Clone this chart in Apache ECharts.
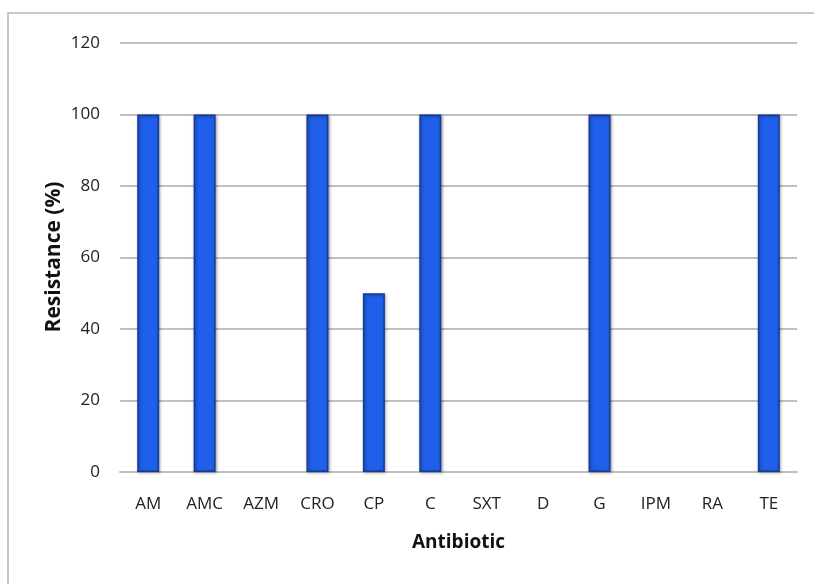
<!DOCTYPE html>
<html>
<head>
<meta charset="utf-8">
<script src="https://cdn.jsdelivr.net/npm/echarts@6/dist/echarts.min.js"></script>
<style>
  html, body { margin: 0; padding: 0; background: #fff; }
  #main { width: 814px; height: 584px; }
</style>
</head>
<body>
<div id="main"></div>
<script>
// antibiotics on the x axis
var antibiotics = ["AM", "AMC", "AZM", "CRO", "CP", "C", "SXT", "D", "G", "IPM", "RA", "TE"];
// resistance in percent
var resistance = [100, 100, 0, 100, 50, 100, 0, 0, 100, 0, 0, 100];
var yTicks = [0, 20, 40, 60, 80, 100, 120];
var yTitle = "Resistance (%)";

var chart = echarts.init(document.getElementById("main"));

var labelFont = "'Open Sans', sans-serif";

chart.setOption({
    animation: false,
    backgroundColor: "#fff",
    graphic: [{
        type: "rect",
        shape: { x: 8, y: 13, width: 830, height: 600 },
        style: { fill: "none", stroke: "#c8c8c8", lineWidth: 2 },
        silent: true
    }, {
        // y axis title, placed by hand so it sits where the reference has it
        type: "text",
        x: 54,
        y: 257,
        rotation: Math.PI / 2,
        style: {
            text: yTitle,
            font: "bold 21px 'Open Sans', sans-serif",
            fill: "#111",
            align: "center",
            verticalAlign: "middle"
        },
        silent: true
    }],
    grid: { left: 120, right: 17, top: 43, bottom: 112 },
    xAxis: {
        type: "category",
        data: antibiotics,
        name: "Antibiotic",
        nameLocation: "middle",
        nameGap: 61,
        nameTextStyle: { fontFamily: labelFont, fontWeight: "bold", fontSize: 19, color: "#111" },
        axisLine: { lineStyle: { color: "#bfbfbf", width: 2 } },
        axisTick: { show: false },
        axisLabel: { fontFamily: labelFont, fontSize: 17, color: "#222", margin: 24 }
    },
    yAxis: {
        type: "value",
        min: yTicks[0],
        max: yTicks[yTicks.length - 1],
        interval: yTicks[1] - yTicks[0],
        axisLine: { show: false },
        axisTick: { show: false },
        axisLabel: { fontFamily: labelFont, fontSize: 17, color: "#222", margin: 20 },
        splitLine: { lineStyle: { color: "#c0c0c0", width: 2 } }
    },
    series: [{
        type: "bar",
        data: resistance.map(function (v) { return v === 0 ? "-" : v; }),
        barWidth: 22,
        itemStyle: {
            color: "#1f5fe9",
            borderColor: "#163b94",
            borderWidth: 1.5,
            shadowColor: "rgba(0,0,0,0.35)",
            shadowBlur: 3,
            shadowOffsetX: 1,
            shadowOffsetY: 1
        }
    }]
});
</script>
</body>
</html>
